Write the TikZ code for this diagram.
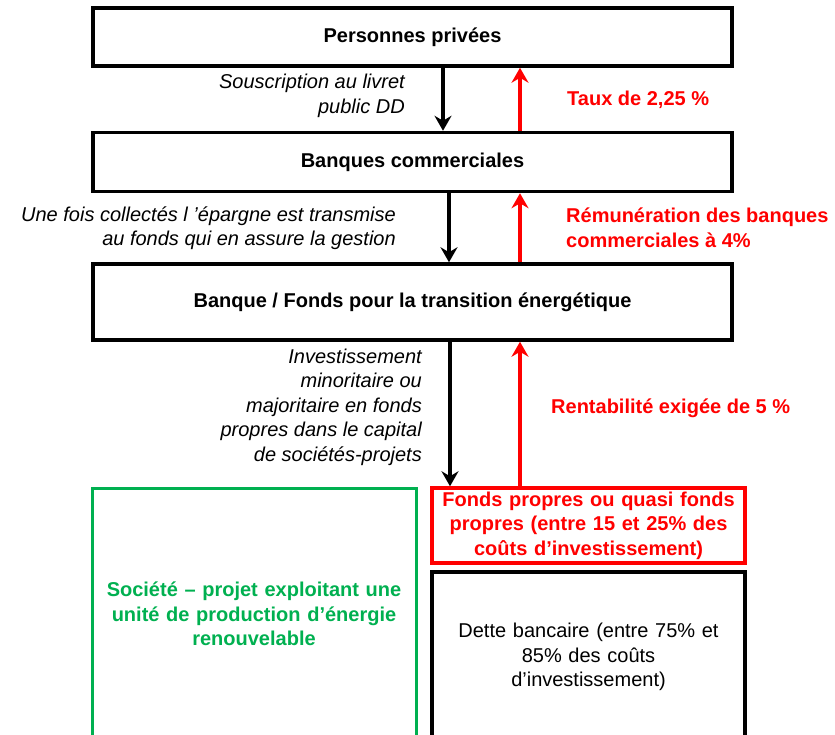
\documentclass[tikz,border=0pt]{standalone}
\usepackage{fontspec}
\setmainfont{Liberation Sans}
\usetikzlibrary{arrows,arrows.meta,positioning,calc}
\definecolor{offgreen}{HTML}{00B050}

\begin{document}
\begin{tikzpicture}[
        x=1pt, y=-1pt,
        every node/.style={font=\fontsize{20}{24.5}\selectfont},
        box/.style={draw, line width=3.5pt, minimum width=639, inner sep=0pt,
            font=\fontsize{20}{24.5}\selectfont\bfseries},
        lab/.style={inner sep=0pt, align=right, anchor=east,
            font=\fontsize{20}{24.5}\selectfont\itshape},
        rate/.style={inner sep=0pt, align=left, anchor=west, text=red,
            font=\fontsize{20}{24.5}\selectfont\bfseries},
        flow/.style={line width=3.5pt, -{Stealth[length=15pt,width=17pt,inset=5pt]}},
    ]
    \useasboundingbox (0,0) rectangle (835,734);
    % main chain
    \node[box, minimum height=58] (pp) at (412.5,37) {Personnes privées};
    \node[box, minimum height=59] (bc) at (412.5,162) {Banques commerciales};
    \node[box, minimum height=76] (bf) at (412.5,302)
        {Banque / Fonds pour la transition énergétique};
    % project company
    \node[draw=offgreen, line width=3pt, minimum width=324, minimum height=252,
        text width=310, align=center, text=offgreen,
        font=\fontsize{20}{24.5}\selectfont\bfseries] (sp) at (254,614)
        {Société – projet exploitant une\\unité de production d’énergie\\renouvelable};
    \node[draw=red, line width=3.5pt, minimum width=313, minimum height=75,
        text width=300, align=center, text=red, inner sep=0pt,
        font=\fontsize{20}{24.5}\selectfont\bfseries] (fp) at (588.5,525.5)
        {Fonds propres ou quasi fonds\\propres (entre 15 et 25\% des\\coûts d’investissement)};
    \node[draw, line width=3.5pt, minimum width=313, minimum height=170,
        text width=300, align=center] (db) at (588.5,657)
        {Dette bancaire (entre 75\% et\\85\% des coûts\\d’investissement)};
    % flows
    \draw[flow] ([xshift=30.5]pp.south) -- ([xshift=30.5]bc.north);
    \draw[flow, red] ([xshift=107.5]bc.north) -- ([xshift=107.5]pp.south);
    \draw[flow] ([xshift=36.5]bc.south) -- ([xshift=36.5]bf.north);
    \draw[flow, red] ([xshift=107.5]bf.north) -- ([xshift=107.5]bc.south);
    \coordinate (down3) at ([xshift=37.5]bf.south);
    \coordinate (up3) at ([xshift=107.5]bf.south);
    \draw[flow] (down3) -- (down3 |- fp.north);
    \draw[flow, red] (up3 |- fp.north) -- (up3);
    % labels
    \node[lab] (l1) at (405,96) {Souscription au livret\\public DD};
    \node[rate] (r1) at (567,100) {Taux de 2,25 \%};
    \node[lab] (l2) at (396,228)
        {Une fois collectés l ’épargne est transmise\\au fonds qui en assure la gestion};
    \node[rate] (r2) at (566,228) {Rémunération des banques\\commerciales à 4\%};
    \node[lab] (l3) at (422,407) {Investissement\\minoritaire ou\\majoritaire en fonds\\propres dans le capital\\de sociétés-projets};
    \node[rate] (r3) at (551,408) {Rentabilité exigée de 5 \%};
\end{tikzpicture}
\end{document}
